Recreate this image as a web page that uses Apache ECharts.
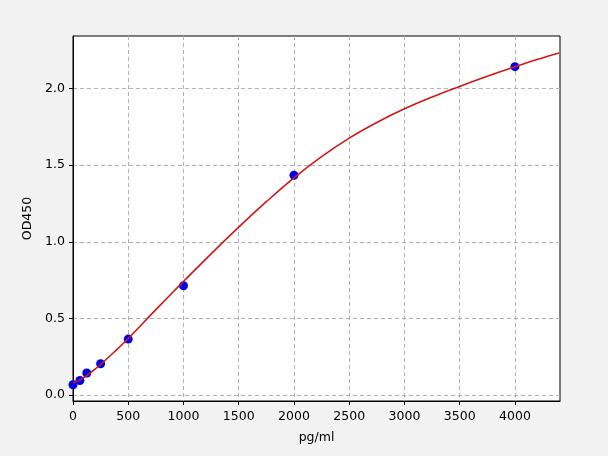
<!DOCTYPE html>
<html>
<head>
<meta charset="utf-8">
<script src="https://cdn.jsdelivr.net/npm/echarts@6/dist/echarts.min.js"></script>
<style>
html,body{margin:0;padding:0;background:#f2f2f2;}
#c{width:608px;height:456px;}
</style>
</head>
<body>
<div id="c"></div>
<script>
// Measured standards
var stdConc = [0, 62.5, 125, 250, 500, 1000, 2000, 4000];
var stdOD   = [0.068, 0.096, 0.145, 0.205, 0.366, 0.714, 1.435, 2.143];
// Fitted curve
var curveConc = [0, 62.5, 125, 187.5, 250, 375, 500, 750, 1000, 1250, 1500, 1750, 2000, 2250, 2500, 2750, 3000, 3250, 3500, 3750, 4000, 4200, 4400];
var curveOD   = [0.080, 0.100, 0.128, 0.163, 0.200, 0.283, 0.370, 0.558, 0.742, 0.922, 1.096, 1.262, 1.418, 1.556, 1.677, 1.779, 1.868, 1.945, 2.014, 2.080, 2.142, 2.189, 2.232];
var xTicks = [0, 500, 1000, 1500, 2000, 2500, 3000, 3500, 4000];
var yTicks = [0, 0.5, 1.0, 1.5, 2.0];

var font = 'DejaVu Sans';
var chart = echarts.init(document.getElementById('c'));
chart.setOption({
  backgroundColor: '#f2f2f2',
  animation: false,
  grid: {left: 73, right: 48, top: 36, bottom: 55, show: true, backgroundColor: '#ffffff', borderColor: '#000', borderWidth: 1},
  xAxis: {
    type: 'value', min: 0, max: 4408,
    name: 'pg/ml', nameLocation: 'middle', nameGap: 30,
    nameTextStyle: {fontFamily: font, fontSize: 12.5, color: '#000'},
    axisLine: {show: true, onZero: false, lineStyle: {color: '#000', width: 1}},
    axisTick: {show: true, length: 4, customValues: xTicks, lineStyle: {color: '#000'}},
    axisLabel: {customValues: xTicks, fontFamily: font, fontSize: 12.5, color: '#000', margin: 9,
      formatter: function (v) { return String(v); }},
    splitLine: {show: true, lineStyle: {color: '#b0b0b0', type: [4, 3], width: 1}}
  },
  yAxis: {
    type: 'value', min: -0.038, max: 2.343,
    name: 'OD450', nameLocation: 'middle', nameGap: 38, nameRotate: 90,
    nameTextStyle: {fontFamily: font, fontSize: 12.5, color: '#000'},
    axisLine: {show: true, onZero: false, lineStyle: {color: '#000', width: 1}},
    axisTick: {show: true, length: 4, customValues: yTicks, lineStyle: {color: '#000'}},
    axisLabel: {customValues: yTicks, fontFamily: font, fontSize: 12.5, color: '#000', margin: 8,
      formatter: function (v) { return v.toFixed(1); }},
    splitLine: {show: true, lineStyle: {color: '#b0b0b0', type: [4, 3], width: 1}}
  },
  series: [
    {
      type: 'scatter', z: 2,
      data: stdConc.map(function (c, i) { return [c, stdOD[i]]; }),
      symbol: 'circle', symbolSize: 9,
      itemStyle: {color: '#0000e6', opacity: 1}
    },
    {
      type: 'line', z: 3,
      data: curveConc.map(function (c, i) { return [c, curveOD[i]]; }),
      showSymbol: false, smooth: 0.4,
      lineStyle: {color: '#d01818', width: 1.6}
    }
  ]
});
</script>
</body>
</html>
